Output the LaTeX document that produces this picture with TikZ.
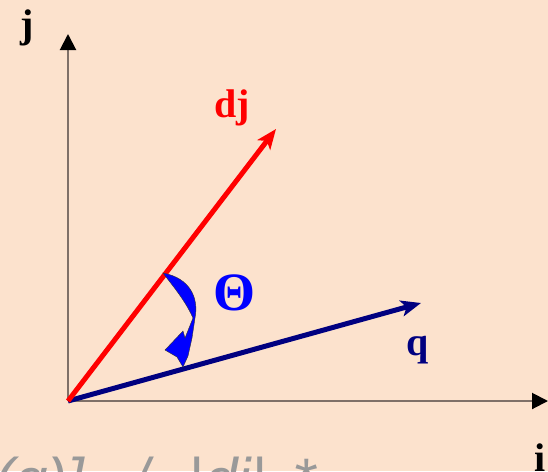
\documentclass[tikz,border=0pt]{standalone}
\usepackage{fontspec}
\setmainfont{Liberation Serif}
\newfontfamily\formulafont{Liberation Sans}
\usepackage{xcolor}
\definecolor{peach}{HTML}{FCE2CD}
\definecolor{axisgray}{HTML}{7F7068}
\definecolor{navyq}{HTML}{000080}
\definecolor{redd}{HTML}{FF0000}
\definecolor{blueth}{HTML}{0000FF}
\definecolor{fgray}{HTML}{999999}
\usepackage{tikz}
\usetikzlibrary{arrows.meta,positioning,calc}
\tikzset{
    axis/.style={-{Triangle[length=16pt,width=16pt,color=black,fill=black]}, line width=2pt, draw=axisgray},
    vec/.style={-{Stealth[length=20pt,width=16pt,inset=5pt]}, line width=5pt},
    lbl/.style={font=\fontsize{40}{48}\selectfont\bfseries, inner sep=0pt, anchor=base},
    anglemark/.style={fill=blueth, draw=black!80, line width=0.4pt}
}

\begin{document}
\begin{tikzpicture}[x=1pt, y=-1pt]
  % Background
  \fill[peach] (0,0) rectangle (548,471);
  \useasboundingbox (0,0) rectangle (548,471);

  % Points
  \coordinate (O) at (68,401);
  \coordinate (itip) at (548,401);
  \coordinate (jtip) at (68,34);
  \coordinate (djtip) at (276,129);
  \coordinate (qtip) at (421,303);

  % Axes
  \draw[axis] (O) -- (itip);
  \draw[axis] (O) -- (jtip);
  \node[lbl] (ilabel) at (540,471) {i};
  \node[lbl] (jlabel) at (27,37) {j};

  % Vectors
  \draw[vec, navyq] (O) -- (qtip);
  \draw[vec, redd] (O) -- (djtip);
  \node[lbl, text=redd] (djlabel) at (232,117) {dj};
  \node[lbl, text=navyq] (qlabel) at (418,355) {q};

  % Angle between the vectors
  \draw[anglemark] (163,273) .. controls (190,278) and (199,298) .. (195,318)
    -- (192,338) -- (188,356) -- (183,367) -- (177,357) -- (165,350)
    -- (183,331) -- (185,338) -- (193,318)
    .. controls (185,300) and (172,285) .. (163,273) -- cycle;
  \node[lbl, text=blueth, font=\fontsize{54}{60}\selectfont\bfseries] (theta) at (234,310) {Θ};

  % Formula (cut off at the bottom)
  \begin{scope}
    \clip (0,0) rectangle (548,471);
    \node[anchor=base west, inner sep=0pt, text=fgray, font=\formulafont\itshape\fontsize{60}{70}\selectfont] (formula) at (-6,500) {(q)]\hspace{48pt}/\hspace{40pt}|dj|\hspace{26pt}*};
  \end{scope}
\end{tikzpicture}
\end{document}
